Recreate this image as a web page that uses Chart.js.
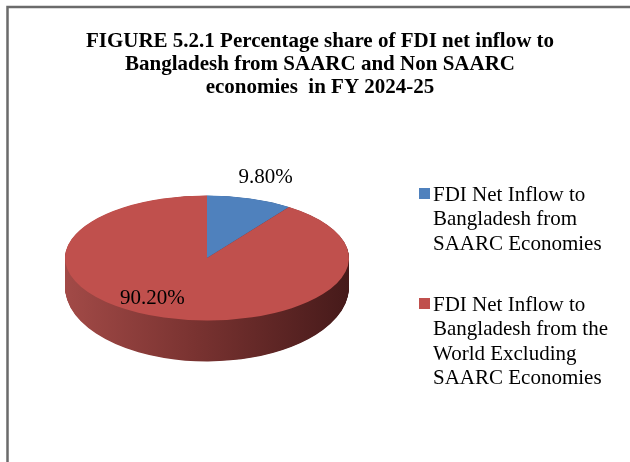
<!DOCTYPE html>
<html>
<head>
<meta charset="utf-8">
<script src="https://cdn.jsdelivr.net/npm/chart.js@4/dist/chart.umd.min.js"></script>
<style>
  html, body { margin: 0; padding: 0; background: #ffffff; }
  #wrap { width: 630px; height: 462px; position: relative; }
</style>
</head>
<body>
<div id="wrap"><canvas id="c" width="630" height="462"></canvas></div>
<script>
// ---- data ----
const titleLines = [
  'FIGURE 5.2.1 Percentage share of FDI net inflow to',
  'Bangladesh from SAARC and Non SAARC',
  'economies  in FY 2024-25'
];
const categories = [
  'FDI Net Inflow to Bangladesh from SAARC Economies',
  'FDI Net Inflow to Bangladesh from the World Excluding SAARC Economies'
];
const legendLines = [
  ['FDI Net Inflow to', 'Bangladesh from', 'SAARC Economies'],
  ['FDI Net Inflow to', 'Bangladesh from the', 'World Excluding', 'SAARC Economies']
];
const shares = [9.8, 90.2];
const valueLabels = ['9.80%', '90.20%'];

// ---- styles ----
const faceColors = ['#4f81bd', '#c0504d'];
const sideStops = [
  [[0, '#3f6797'], [1, '#22385a']],
  [[0, '#a24a47'], [0.45, '#7a3331'], [1, '#461a1a']]
];
const SQUASH = 0.44;     // ry / rx of top face
const SIDE_DROP = 29;    // vertical drop of bottom ellipse centre
const SIDE_GROW = 12;    // extra ry of bottom ellipse
const labelRadius = [1.36, 0.75];
const labelAngleShift = [0, 0.23];
const serif = '"Liberation Serif", "Times New Roman", serif';

function squashTransform(ctx, cx, cy, R, off, ry) {
  ctx.translate(cx, cy + off);
  ctx.scale(1, ry / R);
  ctx.translate(-cx, -cy);
}

const pie3d = {
  id: 'pie3d',
  beforeDatasetsDraw(chart) {
    const ctx = chart.ctx;
    const meta = chart.getDatasetMeta(0);
    const a0 = meta.data[0];
    const cx = a0.x, cy = a0.y, R = a0.outerRadius;
    const ryTop = R * SQUASH;
    const grads = sideStops.map(stops => {
      const g = ctx.createLinearGradient(cx - R, 0, cx + R, 0);
      stops.forEach(s => g.addColorStop(s[0], s[1]));
      return g;
    });
    const N = 60;
    for (let k = N; k >= 1; k--) {
      const t = k / N;
      ctx.save();
      squashTransform(ctx, cx, cy, R, t * SIDE_DROP, ryTop + t * SIDE_GROW);
      meta.data.forEach((el, i) => {
        const fake = Object.create(el);
        fake.options = Object.assign({}, el.options, { backgroundColor: grads[i], borderWidth: 0 });
        fake.draw(ctx);
      });
      ctx.restore();
    }
    ctx.save();
    squashTransform(ctx, cx, cy, R, 0, ryTop);
  },
  afterDatasetsDraw(chart) {
    const ctx = chart.ctx;
    ctx.restore();
    // value labels
    const meta = chart.getDatasetMeta(0);
    ctx.save();
    ctx.font = '21px ' + serif;
    ctx.fillStyle = '#000';
    ctx.textAlign = 'center';
    ctx.textBaseline = 'middle';
    meta.data.forEach((el, i) => {
      const mid = (el.startAngle + el.endAngle) / 2 + labelAngleShift[i];
      const r = el.outerRadius * labelRadius[i];
      const x = el.x + Math.cos(mid) * r;
      const y = el.y + Math.sin(mid) * r * SQUASH;
      ctx.fillText(valueLabels[i], x, y);
    });
    ctx.restore();
  },
  afterDraw(chart) {
    const ctx = chart.ctx;
    ctx.save();
    // frame
    ctx.strokeStyle = '#6b6b6b';
    ctx.lineWidth = 2.5;
    ctx.beginPath();
    ctx.moveTo(7.5, 462);
    ctx.lineTo(7.5, 7);
    ctx.lineTo(630, 7);
    ctx.stroke();
    // title
    ctx.fillStyle = '#000';
    ctx.textAlign = 'center';
    ctx.textBaseline = 'middle';
    ctx.font = 'bold 21px ' + serif;
    titleLines.forEach((t, i) => ctx.fillText(t, 320, 42 + i * 23));
    // legend
    ctx.textAlign = 'left';
    ctx.font = '21px ' + serif;
    const starts = [195, 305];
    legendLines.forEach((lines, i) => {
      ctx.fillStyle = faceColors[i];
      ctx.fillRect(419, starts[i] - 7, 11, 11);
      ctx.fillStyle = '#000';
      lines.forEach((ln, j) => ctx.fillText(ln, 433, starts[i] + j * 24.5));
    });
    ctx.restore();
  }
};

new Chart(document.getElementById('c'), {
  type: 'pie',
  data: {
    labels: categories,
    datasets: [{
      data: shares,
      backgroundColor: faceColors,
      borderWidth: 0
    }]
  },
  options: {
    responsive: false,
    animation: false,
    layout: { padding: { left: 65, right: 281, top: 116, bottom: 62 } },
    plugins: { legend: { display: false }, tooltip: { enabled: false }, title: { display: false } }
  },
  plugins: [pie3d]
});
</script>
</body>
</html>
